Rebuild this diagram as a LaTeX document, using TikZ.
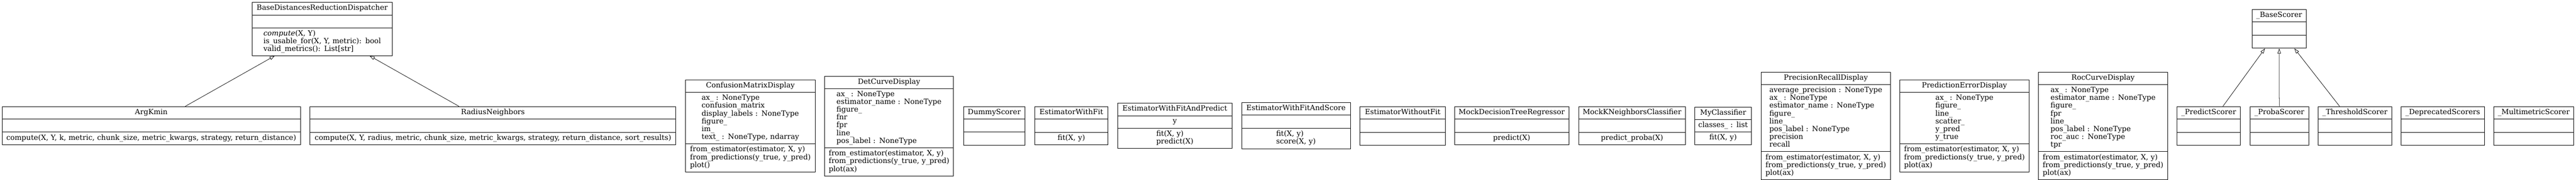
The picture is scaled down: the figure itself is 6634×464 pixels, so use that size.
\documentclass[tikz,border=0pt]{standalone}
\usepackage{fontspec}
\setmainfont{DejaVu Serif}
\usetikzlibrary{arrows.meta,shapes.multipart}

\newcommand{\members}[1]{\begin{tabular}{@{}l@{}}#1\end{tabular}}
\newcommand{\emptyrow}{\rule{0pt}{22pt}}

\begin{document}
\begin{tikzpicture}[x=1pt, y=-1pt, line width=1pt,
            font=\fontsize{18.67}{20}\selectfont,
            umlclass/.style={draw, rectangle split, rectangle split parts=3,
                anchor=north west, inner xsep=0pt, inner ysep=5.5pt, align=center},
            inherit/.style={-{Triangle[open, length=13.3pt, width=8.7pt]}}]
        \useasboundingbox (0,0) rectangle (6634,464);
        % pairwise distances reduction
        \node[umlclass, text width=361.5pt] (dispatcher) at (648.5,5.7)
            {\strut BaseDistancesReductionDispatcher \nodepart{second}\emptyrow
             \nodepart{third}{\def\arraystretch{0.9167}\members{\textit{compute}(X, Y)\\
                is\_usable\_for(X, Y, metric): bool\\valid\_metrics(): List[str]}}};
        \node[umlclass, text width=768.5pt] (argkmin) at (4.7,274.3)
            {\strut ArgKmin \nodepart{second}\emptyrow
             \nodepart{third}\members{compute(X, Y, k, metric, chunk\_size, metric\_kwargs, strategy, return\_distance)}};
        \node[umlclass, text width=942pt] (radius) at (798,274.3)
            {\strut RadiusNeighbors \nodepart{second}\emptyrow
             \nodepart{third}\members{compute(X, Y, radius, metric, chunk\_size, metric\_kwargs, strategy, return\_distance, sort\_results)}};
        % displays and test estimators
        \node[umlclass, text width=334pt] (confusion) at (1765,205.7)
            {\strut ConfusionMatrixDisplay
             \nodepart{second}\members{ax\_ : NoneType\\confusion\_matrix\\display\_labels : NoneType\\figure\_\\im\_\\text\_ : NoneType, ndarray}
             \nodepart{third}\members{from\_estimator(estimator, X, y)\\from\_predictions(y\_true, y\_pred)\\plot()}};
        \node[umlclass, text width=332pt] (detcurve) at (2123,195.7)
            {\strut DetCurveDisplay
             \nodepart{second}\members{ax\_ : NoneType\\estimator\_name : NoneType\\figure\_\\fnr\\fpr\\line\_\\pos\_label : NoneType}
             \nodepart{third}\members{from\_estimator(estimator, X, y)\\from\_predictions(y\_true, y\_pred)\\plot(ax)}};
        \node[umlclass, text width=158pt] (dummy) at (2481,274.3)
            {\strut DummyScorer \nodepart{second}\emptyrow \nodepart{third}\emptyrow};
        \node[umlclass, text width=189pt] (withfit) at (2664,274.3)
            {\strut EstimatorWithFit \nodepart{second}\emptyrow
             \nodepart{third}\members{fit(X, y)}};
        \node[umlclass, text width=294pt] (withpredict) at (2878,265.7)
            {\strut EstimatorWithFitAndPredict \nodepart{second}\members{y}
             \nodepart{third}\members{fit(X, y)\\predict(X)}};
        \node[umlclass, text width=280pt] (withscore) at (3197,264.3)
            {\strut EstimatorWithFitAndScore \nodepart{second}\emptyrow
             \nodepart{third}\members{fit(X, y)\\score(X, y)}};
        \node[umlclass, text width=220pt] (withoutfit) at (3502,274.3)
            {\strut EstimatorWithoutFit \nodepart{second}\emptyrow \nodepart{third}\emptyrow};
        \node[umlclass, text width=295pt] (mocktree) at (3745,274.3)
            {\strut MockDecisionTreeRegressor \nodepart{second}\emptyrow
             \nodepart{third}\members{predict(X)}};
        \node[umlclass, text width=275pt] (mockknn) at (4065,274.3)
            {\strut MockKNeighborsClassifier \nodepart{second}\emptyrow
             \nodepart{third}\members{predict\_proba(X)}};
        \node[umlclass, text width=146pt] (myclf) at (4364,275.7)
            {\strut MyClassifier \nodepart{second}\members{classes\_ : list}
             \nodepart{third}\members{fit(X, y)}};
        \node[umlclass, text width=333pt] (precrec) at (4535,185.7)
            {\strut PrecisionRecallDisplay
             \nodepart{second}\members{average\_precision : NoneType\\ax\_ : NoneType\\estimator\_name : NoneType\\figure\_\\line\_\\pos\_label : NoneType\\precision\\recall}
             \nodepart{third}\members{from\_estimator(estimator, X, y)\\from\_predictions(y\_true, y\_pred)\\plot(ax)}};
        \node[umlclass, text width=333pt] (prederr) at (4892,205.7)
            {\strut PredictionErrorDisplay
             \nodepart{second}\members{ax\_ : NoneType\\figure\_\\line\_\\scatter\_\\y\_pred\\y\_true}
             \nodepart{third}\members{from\_estimator(estimator, X, y)\\from\_predictions(y\_true, y\_pred)\\plot(ax)}};
        \node[umlclass, text width=333pt] (roccurve) at (5249,185.7)
            {\strut RocCurveDisplay
             \nodepart{second}\members{ax\_ : NoneType\\estimator\_name : NoneType\\figure\_\\fpr\\line\_\\pos\_label : NoneType\\roc\_auc : NoneType\\tpr}
             \nodepart{third}\members{from\_estimator(estimator, X, y)\\from\_predictions(y\_true, y\_pred)\\plot(ax)}};
        % scorers
        \node[umlclass, text width=140pt] (basescorer) at (5799,24)
            {\strut \_BaseScorer \nodepart{second}\emptyrow \nodepart{third}\emptyrow};
        \node[umlclass, text width=163pt] (predictscorer) at (5606,274.3)
            {\strut \_PredictScorer \nodepart{second}\emptyrow \nodepart{third}\emptyrow};
        \node[umlclass, text width=151pt] (probascorer) at (5794,274.3)
            {\strut \_ProbaScorer \nodepart{second}\emptyrow \nodepart{third}\emptyrow};
        \node[umlclass, text width=190pt] (thresholdscorer) at (5969,274.3)
            {\strut \_ThresholdScorer \nodepart{second}\emptyrow \nodepart{third}\emptyrow};
        \node[umlclass, text width=215pt] (deprecatedscorers) at (6182.7,274.3)
            {\strut \_DeprecatedScorers \nodepart{second}\emptyrow \nodepart{third}\emptyrow};
        \node[umlclass, text width=206pt] (multiscorer) at (6421.7,274.3)
            {\strut \_MultimetricScorer \nodepart{second}\emptyrow \nodepart{third}\emptyrow};
        % inheritance
        \draw[inherit] (argkmin) -- (dispatcher);
        \draw[inherit] (radius) -- (dispatcher);
        \draw[inherit] (predictscorer) -- (basescorer);
        \draw[inherit] (probascorer) -- (basescorer);
        \draw[inherit] (thresholdscorer) -- (basescorer);
\end{tikzpicture}
\end{document}
